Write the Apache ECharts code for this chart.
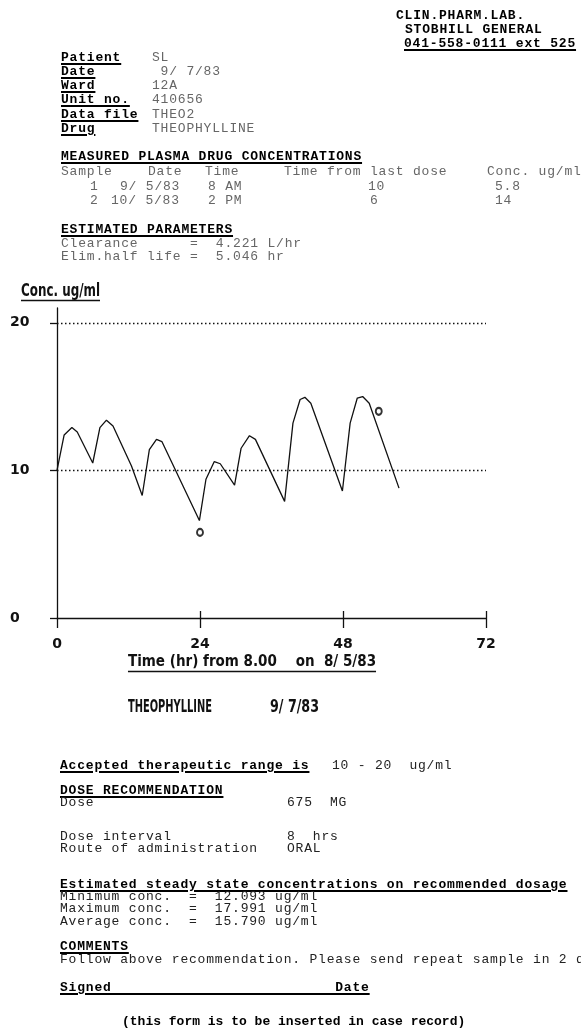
<!DOCTYPE html>
<html>
<head>
<meta charset="utf-8">
<script src="https://cdn.jsdelivr.net/npm/echarts@6/dist/echarts.min.js"></script>
<style>
html, body { margin: 0; padding: 0; background: #fff; }
body { width: 581px; height: 1032px; position: relative; overflow: hidden; }
#chart { position: absolute; left: 0; top: 0; width: 581px; height: 1032px; }
.t { position: absolute; white-space: pre; font-family: "Liberation Mono", "DejaVu Sans Mono", monospace; font-size: 13px; letter-spacing: 0.8px; line-height: 16px; color: #666; }
.b { font-weight: bold; color: #000; }
.u { text-decoration: underline; text-decoration-thickness: 1.5px; text-underline-offset: 2px; }
.d { color: #222; }
</style>
</head>
<body>
<div id="chart"></div>

<!-- header -->
<div class="t b" style="left:396px;top:8px">CLIN.PHARM.LAB.</div>
<div class="t b" style="left:405px;top:22px">STOBHILL GENERAL</div>
<div class="t b u" style="left:404px;top:36px">041-558-0111 ext 525</div>

<div class="t b u" style="left:61px;top:50px">Patient</div>
<div class="t b u" style="left:61px;top:64px">Date</div>
<div class="t b u" style="left:61px;top:78px">Ward</div>
<div class="t b u" style="left:61px;top:92px">Unit no.</div>
<div class="t b u" style="left:61px;top:107px">Data file</div>
<div class="t b u" style="left:61px;top:121px">Drug</div>
<div class="t" style="left:152px;top:50px">SL</div>
<div class="t" style="left:152px;top:64px"> 9/ 7/83</div>
<div class="t" style="left:152px;top:78px">12A</div>
<div class="t" style="left:152px;top:92px">410656</div>
<div class="t" style="left:152px;top:107px">THEO2</div>
<div class="t" style="left:152px;top:121px">THEOPHYLLINE</div>

<div class="t b u" style="left:61px;top:149px">MEASURED PLASMA DRUG CONCENTRATIONS</div>
<div class="t" style="left:61px;top:164px">Sample</div>
<div class="t" style="left:148px;top:164px">Date</div>
<div class="t" style="left:205px;top:164px">Time</div>
<div class="t" style="left:284px;top:164px">Time from last dose</div>
<div class="t" style="left:487px;top:164px">Conc. ug/ml</div>
<div class="t" style="left:90px;top:179px">1</div>
<div class="t" style="left:120px;top:179px">9/ 5/83</div>
<div class="t" style="left:208px;top:179px">8 AM</div>
<div class="t" style="left:368px;top:179px">10</div>
<div class="t" style="left:495px;top:179px">5.8</div>
<div class="t" style="left:90px;top:193px">2</div>
<div class="t" style="left:111px;top:193px">10/ 5/83</div>
<div class="t" style="left:208px;top:193px">2 PM</div>
<div class="t" style="left:370px;top:193px">6</div>
<div class="t" style="left:495px;top:193px">14</div>

<div class="t b u" style="left:61px;top:222px">ESTIMATED PARAMETERS</div>
<div class="t" style="left:61px;top:236px">Clearance      =  4.221 L/hr</div>
<div class="t" style="left:61px;top:249px">Elim.half life =  5.046 hr</div>

<!-- footer -->
<div class="t b u" style="left:60px;top:758px">Accepted therapeutic range is</div>
<div class="t d" style="left:332px;top:758px">10 - 20  ug/ml</div>
<div class="t b u" style="left:60px;top:783px">DOSE RECOMMENDATION</div>
<div class="t d" style="left:60px;top:795px">Dose</div>
<div class="t d" style="left:287px;top:795px">675  MG</div>
<div class="t d" style="left:60px;top:829px">Dose interval</div>
<div class="t d" style="left:287px;top:829px">8  hrs</div>
<div class="t d" style="left:60px;top:841px">Route of administration</div>
<div class="t d" style="left:287px;top:841px">ORAL</div>
<div class="t b u" style="left:60px;top:877px">Estimated steady state concentrations on recommended dosage</div>
<div class="t d" style="left:60px;top:889px">Minimum conc.  =  12.093 ug/ml</div>
<div class="t d" style="left:60px;top:901px">Maximum conc.  =  17.991 ug/ml</div>
<div class="t d" style="left:60px;top:914px">Average conc.  =  15.790 ug/ml</div>
<div class="t b u" style="left:60px;top:939px">COMMENTS</div>
<div class="t d" style="left:60px;top:952px">Follow above recommendation. Please send repeat sample in 2 days</div>
<div class="t b u" style="left:60px;top:980px">Signed                          Date</div>
<div class="t b" style="left:122px;top:1014px;letter-spacing:0">(this form is to be inserted in case record)</div>

<script>
// predicted concentration curve (hours from 8.00 on 8/5/83, ug/ml)
const timeHr = [0, 1.2, 2.5, 3.4, 6.0, 7.2, 8.3, 9.4, 12.5, 14.3, 15.5, 16.7, 17.6, 23.9, 25.0, 26.4, 27.4, 29.8, 30.9, 32.3, 33.3, 38.2, 39.6, 40.8, 41.6, 42.6, 47.9, 49.2, 50.4, 51.3, 52.4, 57.4];
const concPred = [10.0, 12.4, 12.9, 12.6, 10.5, 12.9, 13.4, 13.0, 10.3, 8.3, 11.4, 12.1, 11.95, 6.6, 9.4, 10.6, 10.45, 9.0, 11.5, 12.35, 12.1, 7.9, 13.2, 14.8, 14.95, 14.55, 8.6, 13.2, 14.9, 15.0, 14.55, 8.8];
// measured samples
const sampleTime = [24, 54];
const sampleConc = [5.8, 14];
// therapeutic range
const rangeLimits = [10, 20];
const xTicks = [0, 24, 48, 72];
const yTicks = [0, 10, 20];

const plotFont = '"Liberation Sans Narrow", "DejaVu Sans Condensed", "Liberation Sans", sans-serif';
const digitFont = '"DejaVu Sans", sans-serif';
const xName = 'Time (hr) from 8.00    on  8/ 5/83';
const yName = 'Conc. ug/ml';

function textWidth(txt, font) {
    const ctx = document.createElement('canvas').getContext('2d');
    ctx.font = font;
    return ctx.measureText(txt).width;
}

// narrow plotter-style text: squeeze to the wanted width
function plotText(txt, x, y, wantW) {
    const font = 'bold 17px ' + plotFont;
    return {
        type: 'text', x: x, y: y, scaleX: wantW / textWidth(txt, font),
        style: { text: txt, font: font, fill: '#111' }
    };
}

document.addEventListener('DOMContentLoaded', function() {
    const chart = echarts.init(document.getElementById('chart'));
    const wX = textWidth(xName, 'bold 15px ' + plotFont);
    const ink = '#111';

    const option = {
        animation: false,
        backgroundColor: 'transparent',
        grid: { left: 57, top: 308, width: 429, height: 310 },
        xAxis: [{
            type: 'value', min: 0, max: 72, interval: 24, position: 'bottom',
            axisLine: { lineStyle: { color: ink, width: 1.3 } },
            axisTick: { show: true, length: 10, customValues: xTicks, lineStyle: { color: ink, width: 1.3 } },
            axisLabel: { color: ink, fontFamily: digitFont, fontWeight: 'bold', fontSize: 14, margin: 19, customValues: xTicks },
            splitLine: { show: false },
            name: xName, nameLocation: 'middle', nameGap: 37,
            nameTextStyle: { color: ink, fontFamily: plotFont, fontWeight: 'bold', fontSize: 15, padding: [0, 39, 0, 0] }
        }, {
            type: 'value', min: 0, max: 72, interval: 24, position: 'bottom', offset: 0,
            axisLine: { show: false },
            axisLabel: { show: false },
            splitLine: { show: false },
            axisTick: { show: true, inside: true, length: 7, customValues: xTicks.slice(1), lineStyle: { color: ink, width: 1.3 } }
        }],
        yAxis: {
            type: 'value', min: 0, max: 21, interval: 10,
            axisLine: { show: true, lineStyle: { color: ink, width: 1.3 } },
            axisTick: { show: true, length: 7, customValues: yTicks, lineStyle: { color: ink, width: 1.3 } },
            axisLabel: { align: 'left', margin: 47, customValues: yTicks, color: ink, fontFamily: digitFont, fontWeight: 'bold', fontSize: 14 },
            splitLine: { show: false }
        },
        series: [{
            name: 'Predicted',
            type: 'line',
            data: timeHr.map((t, i) => [t, concPred[i]]),
            symbol: 'none',
            lineStyle: { color: ink, width: 1.3 },
            markLine: {
                silent: true, symbol: 'none', label: { show: false },
                lineStyle: { color: ink, type: [1.5, 2.5], width: 1.3 },
                data: rangeLimits.map(v => ({ yAxis: v }))
            }
        }, {
            name: 'Measured',
            type: 'scatter',
            data: sampleTime.map((t, i) => [t, sampleConc[i]]),
            symbol: 'circle', symbolSize: [6, 7],
            itemStyle: { color: '#fff', borderColor: '#000', borderWidth: 2 }
        }],
        graphic: [
            plotText(yName, 21, 283, 79),
            plotText('THEOPHYLLINE', 128, 699, 84),
            plotText('9/ 7/83', 270, 699, 49),
            { type: 'line', shape: { x1: 21, y1: 300.5, x2: 100, y2: 300.5 }, style: { stroke: ink, lineWidth: 1.3 } },
            { type: 'line', shape: { x1: 252 - wX / 2, y1: 671.5, x2: 252 + wX / 2, y2: 671.5 }, style: { stroke: ink, lineWidth: 1.3 } }
        ]
    };
    chart.setOption(option);
});
</script>
</body>
</html>
